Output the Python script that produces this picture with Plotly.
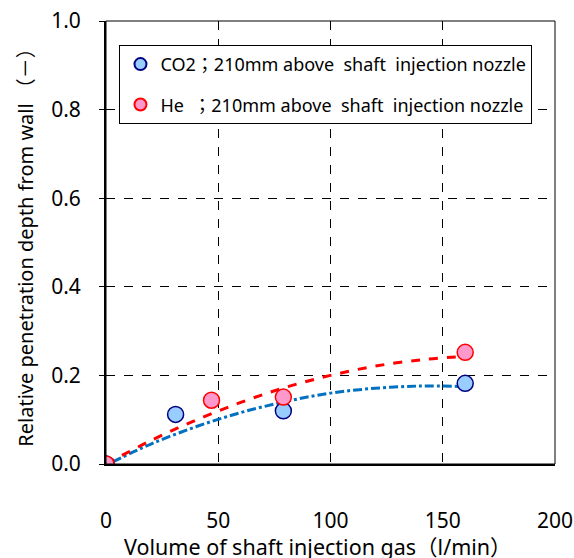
import plotly.graph_objects as go

# Measured points
co2_x = [0, 31, 79, 160]
co2_y = [0.0, 0.112, 0.12, 0.182]
he_x = [0, 47, 79, 160]
he_y = [0.0, 0.144, 0.151, 0.252]

# Trend lines
he_fit_x = [0, 20, 40, 60, 80, 100, 120, 140, 157]
he_fit_y = [0.0, 0.053, 0.099, 0.139, 0.173, 0.200, 0.221, 0.235, 0.242]
co2_fit_x = [3, 20, 40, 60, 80, 100, 120, 140, 158]
co2_fit_y = [0.005, 0.045, 0.084, 0.116, 0.141, 0.160, 0.171, 0.176, 0.175]

x_ticks = [0, 50, 100, 150, 200]
y_ticks = [0.0, 0.2, 0.4, 0.6, 0.8, 1.0]
y_ticklabels = ["0.0", "0.2", "0.4", "0.6", "0.8", "1.0"]

labels = ["CO2；210mm above  shaft  injection nozzle",
          "He  ；210mm above  shaft  injection nozzle"]
x_title = "Volume of shaft injection gas（l/min）"
y_title = "Relative penetration depth from wall （－）"

FONT = "Noto Sans, Noto Sans CJK JP, sans-serif"

fig = go.Figure()
fig.add_trace(go.Scatter(x=co2_fit_x, y=co2_fit_y, mode="lines", showlegend=False,
                         line=dict(color="#0070C0", width=3, dash="dashdot", shape="spline")))
fig.add_trace(go.Scatter(x=he_fit_x, y=he_fit_y, mode="lines", showlegend=False,
                         line=dict(color="#FF0000", width=3, dash="dash", shape="spline")))
fig.add_trace(go.Scatter(x=co2_x, y=co2_y, mode="markers", name=labels[0], legendgroup="a",
                         marker=dict(size=16, color="#99CCFF", line=dict(color="#000080", width=1.5))))
fig.add_trace(go.Scatter(x=he_x, y=he_y, mode="markers", name=labels[1], legendgroup="b",
                         marker=dict(size=16, color="#FF99CC", line=dict(color="#FF0000", width=1.5))))

fig.update_layout(
    width=574, height=558,
    margin=dict(l=106, r=19, t=21, b=94, autoexpand=False),
    paper_bgcolor="white", plot_bgcolor="white",
    font=dict(family=FONT, size=18, color="black"),
    legend=dict(x=0.03, y=0.946, xanchor="left", yanchor="top",
                bgcolor="white", bordercolor="black", borderwidth=1,
                font=dict(size=18), itemsizing="constant", itemwidth=30,
                traceorder="grouped", tracegroupgap=14),
    xaxis=dict(range=[0, 200], tickvals=x_ticks, ticks="", ticklabelstandoff=37,
               tickfont=dict(size=21), automargin=False,
               showgrid=True, gridcolor="black", griddash="dash", gridwidth=1,
               showline=True, linecolor="black", linewidth=2, mirror=False,
               zeroline=False),
    yaxis=dict(range=[0, 1.0], tickvals=y_ticks, ticktext=y_ticklabels,
               ticks="outside", ticklen=5, tickcolor="black", ticklabelstandoff=14,
               tickfont=dict(size=21), automargin=False,
               showgrid=True, gridcolor="black", griddash="dash", gridwidth=1,
               showline=True, linecolor="black", linewidth=2, mirror=False,
               zeroline=False),
    annotations=[
        dict(text=x_title, xref="paper", yref="paper", x=0.472, y=-0.186,
             xanchor="center", yanchor="middle", showarrow=False, font=dict(size=21.5)),
        dict(text=y_title, xref="paper", yref="paper", x=-0.18, y=0.50, textangle=-90,
             xanchor="center", yanchor="middle", showarrow=False, font=dict(size=20)),
    ],
)
# thin frame top/right
fig.add_shape(type="rect", xref="paper", yref="paper", x0=0, y0=0, x1=1, y1=1,
              line=dict(color="black", width=1), layer="above")
fig.write_html("out.html")
